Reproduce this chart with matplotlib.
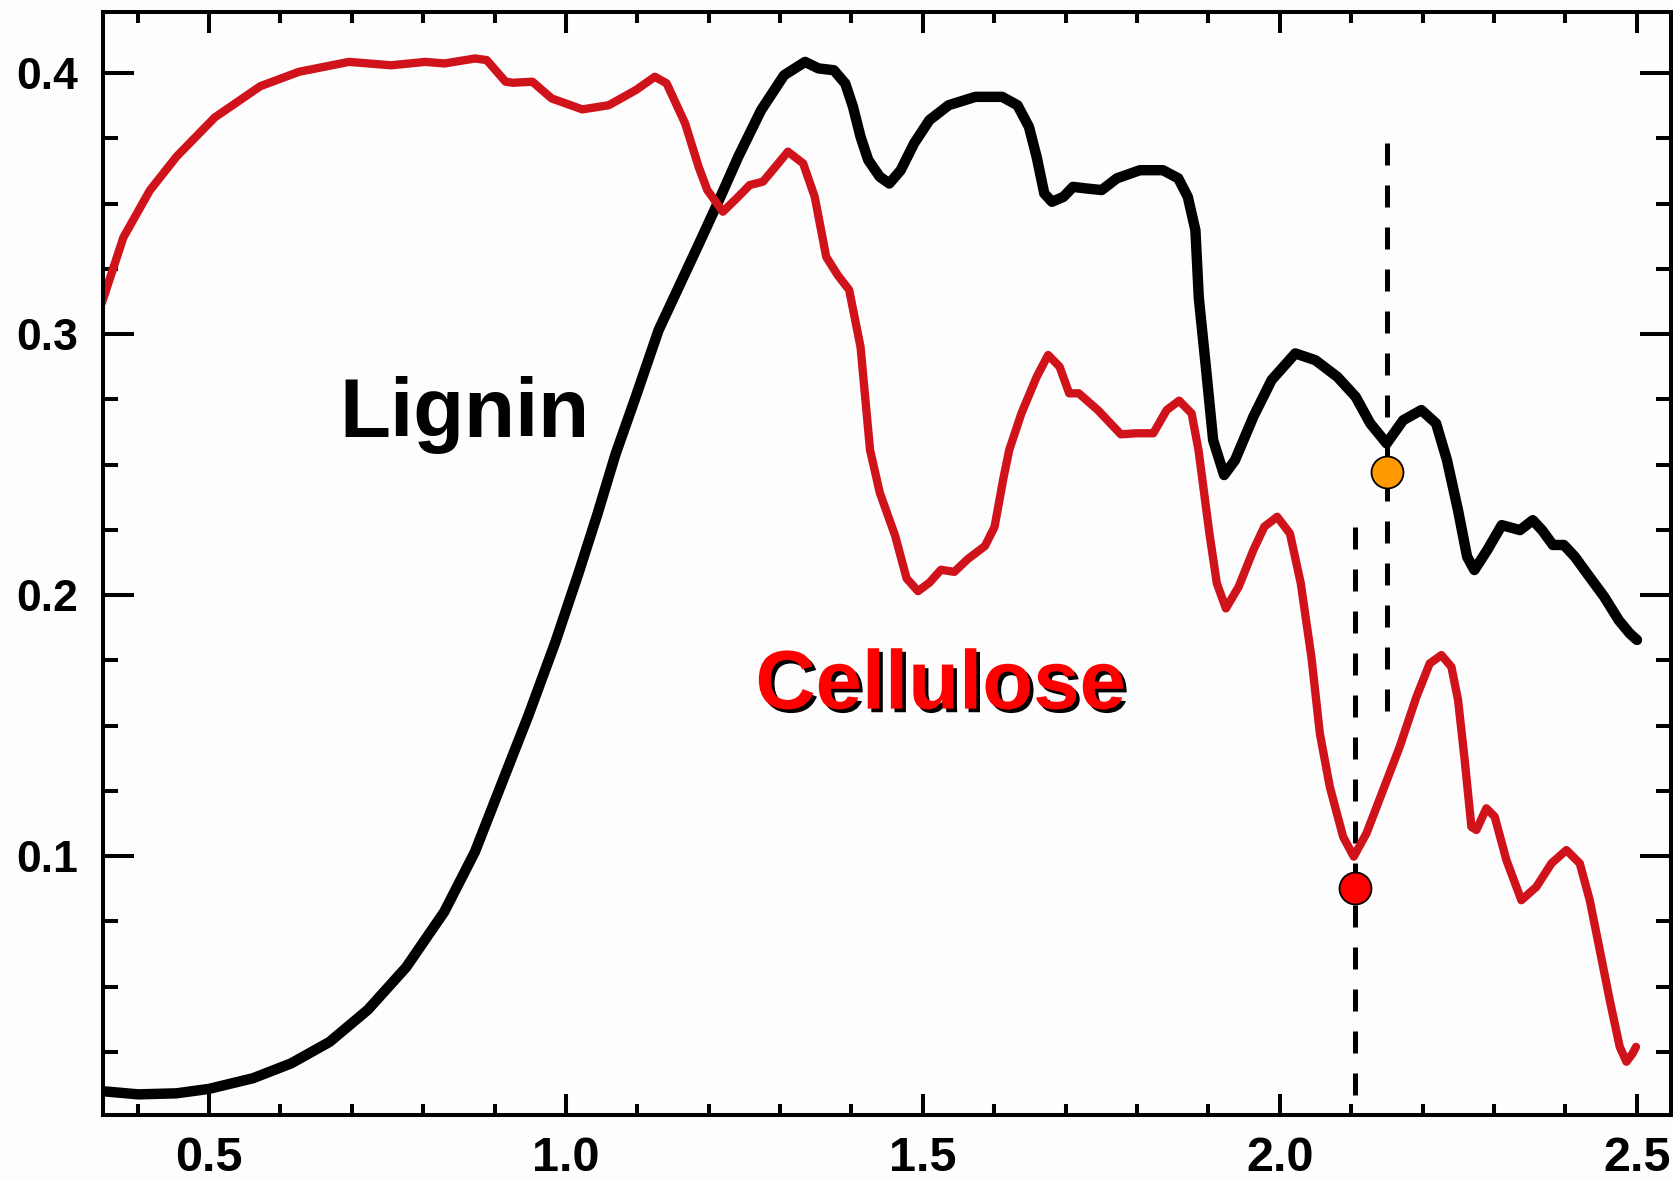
import numpy as np
import matplotlib
matplotlib.use("Agg")
import matplotlib.pyplot as plt
import matplotlib.patheffects as pe
from matplotlib.ticker import MultipleLocator, FormatStrFormatter

# --- spectra (wavelength in um, reflectance) ---
cellulose_x = [0.350, 0.380, 0.417, 0.4545, 0.508, 0.572, 0.626, 0.696, 0.755, 0.803,
               0.830, 0.8725, 0.889, 0.9155, 0.926, 0.953, 0.980, 1.023, 1.060, 1.098,
               1.1245, 1.141, 1.167, 1.186, 1.198, 1.2199, 1.2413, 1.2574, 1.276, 1.2895,
               1.311, 1.3323, 1.3485, 1.3646, 1.3807, 1.3968, 1.4127, 1.426, 1.4397, 1.4611,
               1.4772, 1.4932, 1.5093, 1.5253, 1.5441, 1.5629, 1.587, 1.6004, 1.613, 1.621,
               1.638, 1.6594, 1.6755, 1.6915, 1.705, 1.7184, 1.7451, 1.7773, 1.799, 1.8228,
               1.8416, 1.859, 1.8765, 1.8861, 1.9014, 1.9118, 1.9245, 1.9424, 1.9629, 1.9783,
               1.9963, 2.0142, 2.0294, 2.0444, 2.0561, 2.070, 2.0887, 2.1036, 2.1214, 2.1447,
               2.168, 2.1914, 2.210, 2.2264, 2.2404, 2.2497, 2.259, 2.2684, 2.2754, 2.2894,
               2.301, 2.3174, 2.3384, 2.3594, 2.3805, 2.4015, 2.4202, 2.4342, 2.4482, 2.4622,
               2.4762, 2.4856, 2.4943, 2.499]
cellulose_y = [0.312, 0.337, 0.355, 0.368, 0.383, 0.395, 0.4005, 0.4043, 0.403, 0.4043,
               0.4037, 0.4056, 0.405, 0.3967, 0.3963, 0.3967, 0.3903, 0.3861, 0.3877, 0.3935,
               0.3986, 0.3961, 0.3807, 0.364, 0.3552, 0.3469, 0.3526, 0.3571, 0.3584, 0.3628,
               0.3699, 0.3654, 0.3526, 0.3296, 0.3226, 0.3169, 0.2951, 0.2556, 0.2392, 0.2228,
               0.2064, 0.2015, 0.2048, 0.2097, 0.2089, 0.2138, 0.2188, 0.2261, 0.245, 0.2556,
               0.2696, 0.2836, 0.292, 0.2875, 0.2773, 0.2773, 0.2709, 0.2616, 0.262, 0.262,
               0.2709, 0.2745, 0.2696, 0.2556, 0.2236, 0.2045, 0.1949, 0.2032, 0.2172, 0.2262,
               0.230, 0.2236, 0.2045, 0.176, 0.147, 0.1266, 0.1074, 0.0998, 0.1087, 0.1253,
               0.1419, 0.161, 0.1738, 0.177, 0.1725, 0.1598, 0.1368, 0.1112, 0.110, 0.1183,
               0.1151, 0.0985, 0.0831, 0.0882, 0.0972, 0.1023, 0.0972, 0.0831, 0.064, 0.0448,
               0.0269, 0.0212, 0.0244, 0.0269]

lignin_x = [0.3473, 0.401, 0.4545, 0.500, 0.5618, 0.6153, 0.6689, 0.7225, 0.7762, 0.8297,
            0.8725, 0.910, 0.9476, 0.9851, 1.0173, 1.0441, 1.0695, 1.0978, 1.1298, 1.187,
            1.2144, 1.2413, 1.2734, 1.3056, 1.335, 1.3538, 1.3754, 1.3913, 1.4021, 1.4127,
            1.4235, 1.4396, 1.453, 1.469, 1.4878, 1.5092, 1.5361, 1.5735, 1.6111, 1.6325,
            1.6486, 1.6594, 1.6701, 1.6808, 1.697, 1.7103, 1.729, 1.7505, 1.7719, 1.8041,
            1.8363, 1.8577, 1.8711, 1.8818, 1.8866, 1.8964, 1.9066, 1.922, 1.9373, 1.9629,
            1.9885, 2.0217, 2.0499, 2.0807, 2.1062, 2.1267, 2.1497, 2.1728, 2.1983, 2.2189,
            2.2342, 2.2496, 2.2624, 2.2726, 2.2905, 2.3109, 2.3365, 2.3544, 2.3673, 2.3826,
            2.3979, 2.4133, 2.4338, 2.4543, 2.4748, 2.4902, 2.5004]
lignin_y = [0.0100, 0.0087, 0.0091, 0.0108, 0.0149, 0.0206, 0.0288, 0.0411, 0.0574, 0.0787,
            0.1016, 0.1278, 0.154, 0.1819, 0.2081, 0.231, 0.254, 0.276, 0.3015, 0.335,
            0.3513, 0.3679, 0.3858, 0.3992, 0.4043, 0.4018, 0.4011, 0.396, 0.3871, 0.3756,
            0.3667, 0.3603, 0.3577, 0.3628, 0.3731, 0.382, 0.3877, 0.3909, 0.3909, 0.3877,
            0.3794, 0.3679, 0.3539, 0.3507, 0.3526, 0.3564, 0.3558, 0.3552, 0.3597, 0.3628,
            0.3628, 0.3597, 0.3526, 0.3398, 0.3137, 0.2875, 0.2594, 0.246, 0.2517, 0.2683,
            0.2824, 0.2926, 0.290, 0.2836, 0.276, 0.2658, 0.2581, 0.267, 0.2709, 0.2658,
            0.2517, 0.2326, 0.2147, 0.2096, 0.2172, 0.2268, 0.2249, 0.2287, 0.2249, 0.2192,
            0.2192, 0.2147, 0.207, 0.1994, 0.1904, 0.1853, 0.1828]

# marked absorption features: (x, y) of marker, dashed guide from y_top to y_bottom
lignin_mark = (2.1497, 0.2472)
lignin_guide = (0.3733, 0.1548)
cellulose_mark = (2.105, 0.0876)
cellulose_guide = (0.2262, 0.0)

plt.rcParams['font.family'] = ['Liberation Sans', 'DejaVu Sans']
plt.rcParams['font.weight'] = 'bold'

fig = plt.figure(figsize=(16.73, 11.80), dpi=100, facecolor='#fdfdfd')
ax = fig.add_axes([0.0616, 0.0551, 0.9372, 0.9347])
ax.set_facecolor('#fdfdfd')

red = '#d0121b'

# dashed guide lines
ax.plot([lignin_mark[0]] * 2, lignin_guide, color='black', lw=3.6,
        dashes=(4.4, 4.0), zorder=1)
ax.plot([cellulose_mark[0]] * 2, cellulose_guide, color='black', lw=3.6,
        dashes=(4.4, 4.0), zorder=1)

ax.plot(lignin_x, lignin_y, color='black', lw=7.5, solid_joinstyle='round',
        solid_capstyle='round', zorder=2)
ax.plot(cellulose_x, cellulose_y, color=red, lw=6.0, solid_joinstyle='round',
        solid_capstyle='round', zorder=2)

ax.plot(*lignin_mark, 'o', ms=23, mfc='#ff9900', mec='black', mew=1.3, zorder=4)
ax.plot(*cellulose_mark, 'o', ms=23, mfc='#ff0000', mec='black', mew=1.3, zorder=4)

ax.text(0.682, 0.2607, 'Lignin', fontsize=60, fontweight='bold', color='black',
        ha='left', va='baseline', zorder=3)
ax.text(1.2654, 0.1565, 'Cellulose', fontsize=60, fontweight='bold', color='#ff0000',
        ha='left', va='baseline', zorder=3,
        path_effects=[pe.withSimplePatchShadow(offset=(2.6, -2.6),
                                               shadow_rgbFace='black', alpha=1.0)])

ax.set_xlim(0.3516, 2.548)
ax.set_ylim(0.0008, 0.4234)

ax.xaxis.set_major_locator(MultipleLocator(0.5))
ax.xaxis.set_minor_locator(MultipleLocator(0.1))
ax.yaxis.set_major_locator(MultipleLocator(0.1))
ax.yaxis.set_minor_locator(MultipleLocator(0.025))
ax.xaxis.set_major_formatter(FormatStrFormatter('%.1f'))
ax.yaxis.set_major_formatter(FormatStrFormatter('%.1f'))

ax.tick_params(axis='both', which='both', direction='in', top=True, right=True,
               width=2.9, color='black')
ax.tick_params(axis='x', which='major', length=15, labelsize=35, pad=15)
ax.tick_params(axis='x', which='minor', length=8)
ax.tick_params(axis='y', which='major', length=22, labelsize=32, pad=18)
ax.tick_params(axis='y', which='minor', length=11)

for lab in ax.get_xticklabels() + ax.get_yticklabels():
    lab.set_fontweight('bold')

for sp in ax.spines.values():
    sp.set_linewidth(2.9)
    sp.set_color('black')

fig.savefig('out.png', dpi=100, facecolor=fig.get_facecolor())
